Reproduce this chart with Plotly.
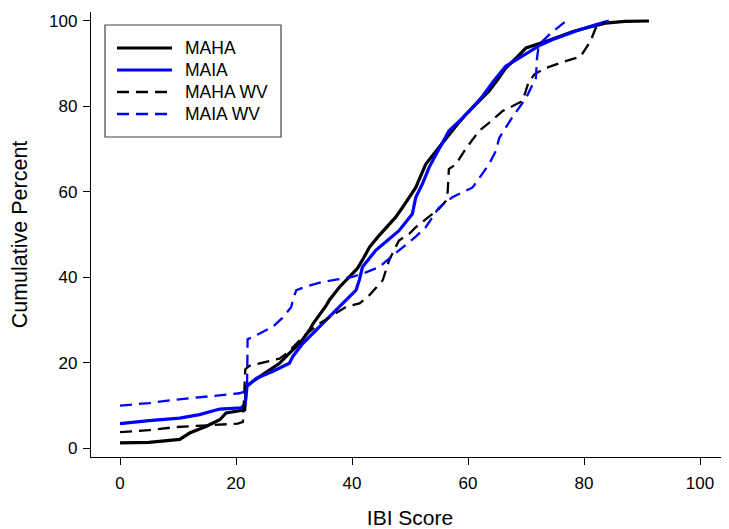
import plotly.graph_objects as go

# ---- data ----
maha_x = [0, 5, 10.3, 12, 14.9, 17.2, 18.3, 20.6, 21.5, 21.8, 22.5, 24.1, 25.5, 27.5, 29, 31, 32.6, 33.3, 35.6, 36.1, 37.9, 39.6, 40.9,
          42, 43, 44.5, 45.9, 47.5, 48.7, 49.9, 51, 52.7, 54.5, 56.2, 58, 59.6, 61.5, 63.6, 65, 66.5, 68.5, 70, 73.4, 76,
          78, 81, 83.7, 87, 91.2]
maha_y = [1.3, 1.4, 2.1, 3.6, 5.2, 6.7, 8.3, 8.7, 9, 14.5, 15.3, 16.8, 18, 19.9, 22, 24.6, 27.5, 29.2, 33.5, 34.7, 37.8, 40.2, 42,
          44.5, 47, 49.5, 51.7, 54, 56.3, 58.7, 61, 66.4, 69.5, 72.6, 75.5, 78, 80.5, 83.5, 86, 88.9, 91.5, 93.6, 95.1, 96.3,
          97.4, 98.5, 99.4, 99.8, 99.9]

maia_x = [0, 1.7, 5, 10.3, 13.7, 17.2, 20.9, 21.6, 21.9, 23.5, 26.3, 29.2, 29.8, 31.5, 33.8, 35.8, 37.8, 40.7, 41.3, 41.8,
          44.1, 46, 48.1, 50.4, 51, 52.2, 53.3, 55, 56.7, 58.5, 60.2, 62.5, 64.5, 66.5, 68.5, 70.5, 72.5, 74.5, 77, 79.1,
          82, 84.3]
maia_y = [5.8, 6.1, 6.5, 7.1, 7.9, 9.2, 9.5, 10.5, 14.5, 16.4, 18, 19.9, 21.5, 24.5, 27.7, 30.5, 33.1, 37, 39.5, 42.4,
          46.3, 48.5, 50.9, 54.8, 58.7, 62, 65.7, 70, 74.2, 76.5, 78.8, 82.3, 86, 89.3, 91, 92.8, 94.3, 95.5, 96.8, 97.8,
          99, 99.9]

mahawv_x = [0, 5, 9.7, 15, 20.3, 21.2, 21.6, 22.3, 25, 27.5, 29, 31.5, 34.4, 37, 39, 41.3, 43, 45.3, 46.4, 48.1, 49.9,
            51, 52.7, 53.3, 55, 56.2, 56.5, 56.7, 57.9, 59.6, 61.9, 64, 65.9, 69.4, 70.5, 71.5, 73.4, 76.8, 79.4, 81.1,
            82, 83.7]
mahawv_y = [3.8, 4.3, 5, 5.4, 5.8, 6.2, 18.5, 19.3, 20.2, 21, 22.5, 26, 29.2, 31.5, 33.1, 33.9, 35.8, 39.3, 44, 48.6,
            50.2, 51.7, 53.5, 54, 56, 57.9, 60, 65.3, 66.4, 70, 74.2, 76.5, 78.8, 81.2, 85.8, 87.5, 88.9, 90.5, 91.6,
            95.1, 98.2, 99.8]

maiawv_x = [0, 5, 9.7, 15, 20.6, 21.9, 22, 24, 26.3, 28, 29.5, 30, 30.4, 32, 34.9, 37.5, 40.1, 42.5, 44.7, 46.5, 48.1,
            51, 52.7, 55, 57.3, 59.6, 60.8, 62, 63.6, 64.8, 65.4, 67.6, 70, 71.7, 71.9, 72.2, 74, 76.8]
maiawv_y = [10, 10.6, 11.4, 12.1, 12.9, 13.5, 25.5, 26.8, 28.4, 30.5, 33, 35.5, 37, 37.8, 38.9, 39.5, 40.1, 41.2, 42.4,
            44.5, 46.3, 49.5, 51.7, 56.3, 58.7, 60.2, 61, 63.3, 66.4, 69.5, 72.6, 77.3, 81.9, 86.6, 91.2, 94.3, 96.7, 99.8]

series_names = ["MAHA", "MAIA", "MAHA WV", "MAIA WV"]
x_ticks = [0, 20, 40, 60, 80, 100]
y_ticks = [0, 20, 40, 60, 80, 100]

FONT = "Arial, 'Liberation Sans', sans-serif"
DASH = "12px,7px"
styles = [
    dict(color="#000000", width=3.2, dash="solid"),
    dict(color="#0000FF", width=3.2, dash="solid"),
    dict(color="#000000", width=2.3, dash=DASH),
    dict(color="#0000FF", width=2.3, dash=DASH),
]
data = [(maha_x, maha_y), (maia_x, maia_y), (mahawv_x, mahawv_y), (maiawv_x, maiawv_y)]

fig = go.Figure()
for name, (xs, ys), st in zip(series_names, data, styles):
    fig.add_trace(go.Scatter(x=xs, y=ys, mode="lines", name=name, line=st, showlegend=False))

# page has an 8px body margin: figure drawn from (8, 8)
OFF = 8
W, H = 729 - OFF, 529 - OFF
ml, mr, mt, mb = 91 - OFF, 0, 12 - OFF, 529 - 457
pw, ph = W - ml - mr, H - mt - mb

def px2paper(px, py):
    # px, py in page pixels
    return (px - OFF - ml) / pw, 1 - (py - OFF - mt) / ph

bx0, by0 = px2paper(105, 25)
bx1, by1 = px2paper(281, 137)
fig.add_shape(type="rect", xref="paper", yref="paper", x0=bx0, y0=by1, x1=bx1, y1=by0,
              line=dict(color="#444444", width=1.2), fillcolor="white", layer="above")
for i, (name, st) in enumerate(zip(series_names, styles)):
    yy = 48 + i * 22
    sx0, sy = px2paper(117, yy)
    sx1, _ = px2paper(172, yy)
    fig.add_shape(type="line", xref="paper", yref="paper", x0=sx0, y0=sy, x1=sx1, y1=sy,
                  line=dict(color=st["color"], width=st["width"], dash=st["dash"]), layer="above")
    tx, ty = px2paper(183, yy)
    fig.add_annotation(xref="paper", yref="paper", x=tx, y=ty, text=name, showarrow=False,
                       xanchor="left", yanchor="middle", font=dict(family=FONT, size=17.5, color="black"))

fig.update_layout(
    width=W, height=H,
    margin=dict(l=ml, r=mr, t=mt, b=mb, autoexpand=False),
    plot_bgcolor="white", paper_bgcolor="white",
    font=dict(family=FONT, color="black"),
    xaxis=dict(range=[-5, 105], tickvals=x_ticks, ticktext=[str(v) for v in x_ticks],
               showgrid=False, zeroline=False, showline=True, linecolor="black", linewidth=1.3,
               ticks="outside", ticklen=7, tickwidth=1.2, tickcolor="black", ticklabelstandoff=3,
               tickfont=dict(size=17, family=FONT),
               title=dict(text="IBI Score", font=dict(size=21, family=FONT), standoff=22)),
    yaxis=dict(range=[-2, 102], tickvals=y_ticks, ticktext=[str(v) for v in y_ticks],
               showgrid=False, zeroline=False, showline=True, linecolor="black", linewidth=1.3,
               ticks="outside", ticklen=7, tickwidth=1.2, tickcolor="black", ticklabelstandoff=2,
               tickfont=dict(size=17, family=FONT),
               title=dict(text="Cumulative Percent", font=dict(size=21.5, family=FONT), standoff=18)),
)

fig.write_html("out.html")
